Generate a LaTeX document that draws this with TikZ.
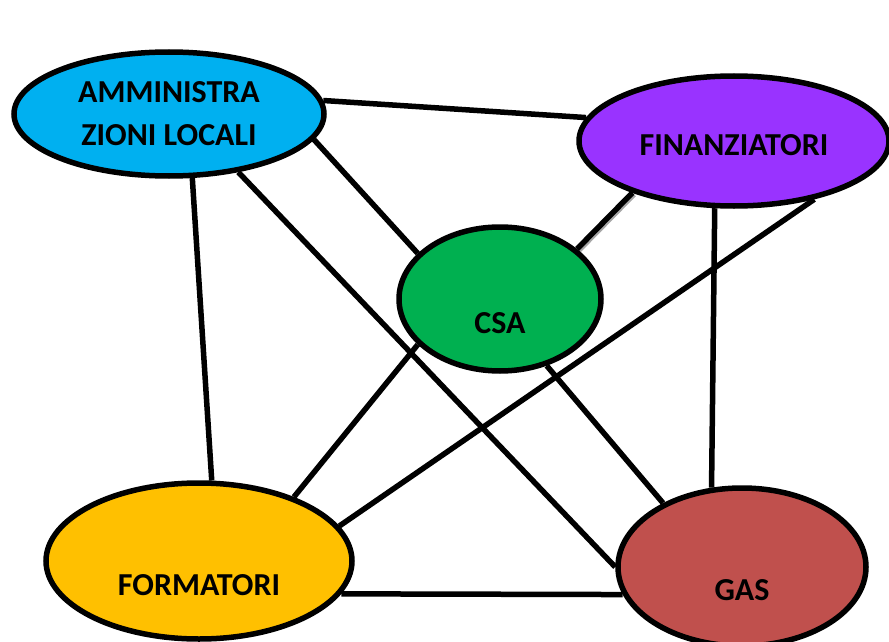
\documentclass[tikz,border=0pt]{standalone}
\usepackage{fontspec}
\setmainfont{Carlito}
\usepackage{xcolor}
\definecolor{enteCyan}{HTML}{00B0F0}
\definecolor{fondiViola}{HTML}{9933FF}
\definecolor{csaGreen}{HTML}{00B050}
\definecolor{formGold}{HTML}{FFC000}
\definecolor{gasRed}{HTML}{C0504D}
\usetikzlibrary{shapes.geometric,backgrounds}

\begin{document}
\begin{tikzpicture}[x=1pt,y=-1pt,
  font=\bfseries\fontsize{32}{43}\selectfont,
  actor/.style={ellipse,draw,line width=5.5pt,inner sep=0pt,align=center},
  link/.style={line width=5.5pt},
  shade link/.style={link,preaction={draw=gray!70,line width=5.5pt,
                     transform canvas={shift={(1.5pt,-1.5pt)}}}}
]
\useasboundingbox (0,0) rectangle (889,642);

\node[actor,fill=enteCyan,minimum width=310pt,minimum height=124pt] (amm) at (169,114)
  {AMMINISTRA\\ZIONI LOCALI};
\node[actor,fill=fondiViola,minimum width=310pt,minimum height=130pt,
      label={[yshift=-4pt]center:FINANZIATORI}] (fin) at (734,141) {};
\node[actor,fill=csaGreen,minimum width=202pt,minimum height=144pt,
      label={[yshift=-24pt]center:CSA}] (csa) at (500,299) {};
\node[actor,fill=formGold,minimum width=306pt,minimum height=156pt,
      label={[yshift=-24pt]center:FORMATORI}] (form) at (199,561) {};
\node[actor,fill=gasRed,minimum width=248pt,minimum height=158pt,
      label={[yshift=-23pt]center:GAS}] (gas) at (742,567) {};

\begin{scope}[on background layer]
\draw[link] (amm.5.5) -- (fin.171);
\draw[link] (amm.-10) -- (csa.151);
\draw[link] (amm.-40) -- (gas.180);
\draw[link] (amm.-70) -- (form.81);
\draw[shade link] (fin.-153) -- (csa.33);
\draw[link] (fin.-36) -- (form.14);
\draw[link] (fin.-106) -- (gas.111);
\draw[link] (csa.-151) -- (form.34);
\draw[link] (csa.-55) -- (gas.141);
\draw[link] (form.-13) -- (gas.193);
\end{scope}
\end{tikzpicture}
\end{document}
